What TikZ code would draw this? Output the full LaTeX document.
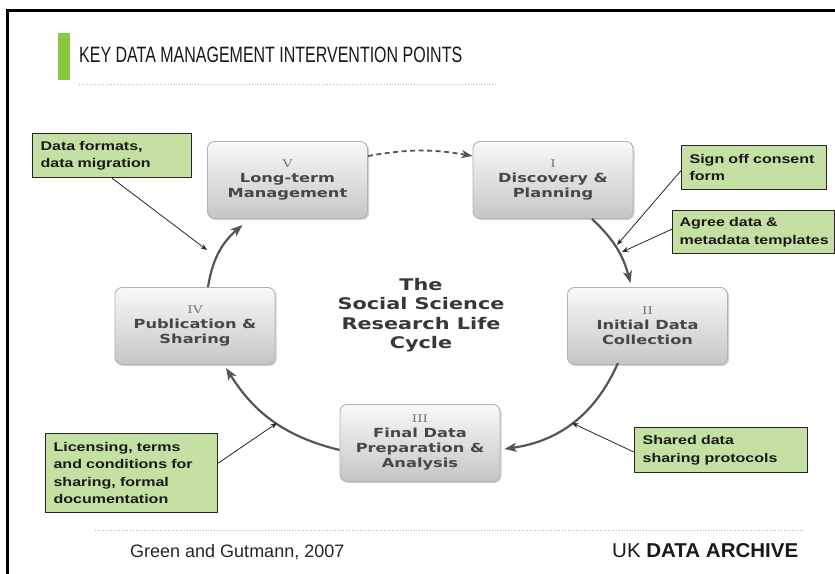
\documentclass[tikz,border=0pt]{standalone}
\usepackage{fontspec}
\setmainfont{Liberation Sans}
\newfontfamily\boxfont[FakeStretch=1.3]{DejaVu Sans}
\newfontfamily\numfont[FakeStretch=1.3]{DejaVu Serif}
\newfontfamily\greenfont[FakeStretch=1.27]{Liberation Sans}
\usetikzlibrary{arrows.meta,shadows,calc}
\definecolor{barGreen}{HTML}{8DC63F}
\definecolor{noteGreen}{HTML}{C4E0A2}
\definecolor{cycleGray}{HTML}{555555}
\definecolor{boxText}{HTML}{474747}
\newcommand{\rnum}[1]{{\numfont\mdseries\fontsize{10.5}{15}\selectfont\textcolor{black!55}{#1}}}
\tikzset{
 stage/.style={rounded corners=7pt, minimum width=160pt, minimum height=77pt,
   top color=gray!5, bottom color=gray!45, draw=gray!60, line width=0.9pt,
   drop shadow={shadow xshift=1.5pt,shadow yshift=-1.5pt,opacity=0.35},
   align=center, font=\boxfont\bfseries\fontsize{12.5}{15}\selectfont, text=boxText, inner sep=2pt},
 note/.style={fill=noteGreen, draw=black!85, line width=1.2pt, align=left,
   font=\greenfont\bfseries\fontsize{12.6}{17.5}\selectfont, text=black!90,
   anchor=north west, inner xsep=8pt, inner ysep=0pt},
 cyc/.style={draw=cycleGray, line width=2.2pt, -{Stealth[length=12pt,width=9pt,inset=3pt]}},
 cycdash/.style={draw=cycleGray, line width=1.8pt, dash pattern=on 5pt off 3.5pt, -{Stealth[length=11pt,width=8pt,inset=3pt]}},
 ptr/.style={draw=black!85, line width=0.8pt, -{Stealth[length=6.5pt,width=5pt]}},
 sep/.style={draw=gray!60, dotted, line width=0.7pt},
}
\begin{document}
\begin{tikzpicture}[x=1pt,y=1pt]
\fill[white] (0,0) rectangle (835,-573);
\useasboundingbox (0,0) rectangle (835,-573);
\draw[line width=3pt] (7.5,-575) -- (7.5,-10.5) -- (836,-10.5);

% header
\fill[barGreen] (58,-33) rectangle (70,-80);
\node[anchor=base west, inner sep=0, text=black!90] (ttl) at (79,-62) {\resizebox{383pt}{15.5pt}{KEY DATA MANAGEMENT INTERVENTION POINTS}};
\draw[sep] (79,-84) -- (495,-84);

% stages
\node[stage] (v) at (287.5,-180) {\rnum{V}\\Long-term\\Management};
\node[stage] (i) at (553,-180) {\rnum{I}\\Discovery \&\\Planning};
\node[stage] (ii) at (647.5,-326) {\rnum{II}\\Initial Data\\Collection};
\node[stage] (iii) at (420,-443) {\rnum{III}\\Final Data\\Preparation \&\\Analysis};
\node[stage] (iv) at (195,-326) {\rnum{IV}\\Publication \&\\Sharing};

% centre title
\node[align=center, font=\boxfont\bfseries\fontsize{16}{19.5}\selectfont, text=black!78] (ctr) at (421,-315)
  {The\\Social Science\\Research Life\\Cycle};

% cycle arrows
\draw[cycdash] ([yshift=24pt]v.east) to[bend left=10] ([yshift=24pt]i.west);
\draw[cyc] ([xshift=39pt]i.south) to[bend left=16] ([xshift=-17pt,yshift=4pt]ii.north);
\draw[cyc] ([xshift=-29.5pt,yshift=2pt]ii.south) to[bend left=29] ([xshift=4pt,yshift=-6pt]iii.east);
\draw[cyc] ([yshift=-7pt]iii.west) to[bend left=22] ([xshift=31pt,yshift=-3pt]iv.south);
\draw[cyc] ([xshift=13pt]iv.north) to[bend left=20] ([xshift=-45pt,yshift=-6pt]v.south);

% notes
\node[note, text width=143pt, minimum height=44pt] (dfm) at (32,-133) {Data formats,\\data migration};
\node[note, text width=129pt, minimum height=44pt] (so) at (681,-145) {Sign off consent\\form};
\node[note, text width=148pt, minimum height=43pt, inner xsep=7pt] (ag) at (672,-210) {Agree data \&\\\mbox{metadata templates}};
\node[note, text width=156pt, minimum height=79pt] (lic) at (45,-433) {Licensing, terms\\and conditions for\\sharing, formal\\documentation};
\node[note, text width=157pt, minimum height=45pt] (sh) at (634,-427) {Shared data\\sharing protocols};

% pointer targets
\coordinate (p1) at (207,-250);
\coordinate (p2) at (617,-245);
\coordinate (p3) at (622,-252);
\coordinate (p4) at (277,-423);
\coordinate (p5) at (572,-423);
\draw[ptr] (dfm.south) -- (p1);
\draw[ptr] ([yshift=-3pt]so.west) -- (p2);
\draw[ptr] ([yshift=3pt]ag.west) -- (p3);
\draw[ptr] ([yshift=10pt]lic.east) -- (p4);
\draw[ptr] ([yshift=-2pt]sh.west) -- (p5);

% footer
\draw[sep] (95,-530) -- (805,-530);
\node[anchor=base west, inner sep=0, font=\fontsize{18}{20}\selectfont, text=black!85] (cite) at (130,-557) {Green and Gutmann, 2007};
\node[anchor=base west, inner sep=0, text=black!90] (uk) at (612,-557) {\resizebox{186pt}{14pt}{UK \textbf{DATA ARCHIVE}}};
\end{tikzpicture}
\end{document}
